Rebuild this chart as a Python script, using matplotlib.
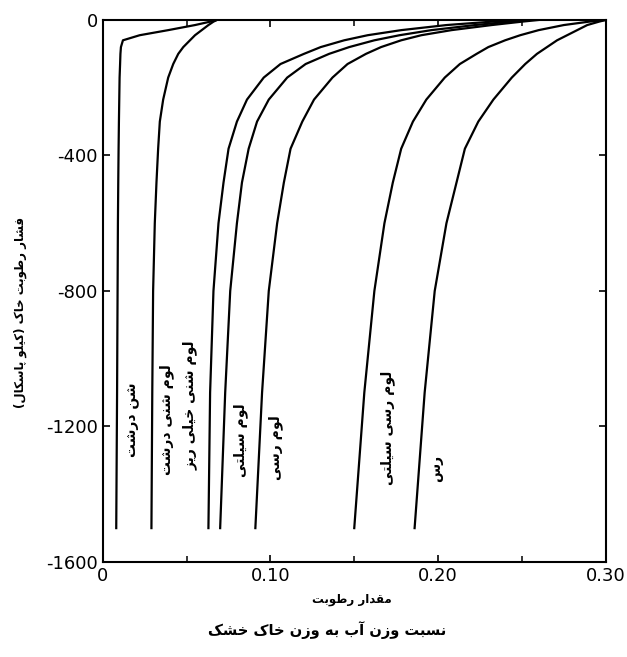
import matplotlib
matplotlib.use("Agg")
import matplotlib.pyplot as plt

# ---------------- data ----------------
pressure = [0, -5, -15, -30, -45, -60, -80, -100, -130, -170, -235, -300,
            -380, -480, -600, -800, -1100, -1500]

coarse_sand = [0.068, 0.064, 0.055, 0.039, 0.022, 0.012, 0.0108, 0.0105, 0.0103,
               0.0100, 0.0098, 0.0096, 0.0094, 0.0092, 0.0090, 0.0088, 0.0085, 0.0080]
coarse_sandy_loam = [0.068, 0.066, 0.063, 0.059, 0.055, 0.052, 0.048, 0.045, 0.042,
                     0.039, 0.036, 0.034, 0.033, 0.032, 0.031, 0.030, 0.0295, 0.029]
vfine_sandy_loam = [0.250, 0.232, 0.205, 0.178, 0.158, 0.144, 0.130, 0.120, 0.106,
                    0.096, 0.086, 0.080, 0.075, 0.072, 0.069, 0.066, 0.064, 0.063]
silt_loam = [0.255, 0.243, 0.222, 0.196, 0.177, 0.162, 0.147, 0.135, 0.121,
             0.110, 0.099, 0.092, 0.087, 0.083, 0.080, 0.076, 0.073, 0.070]
clay_loam = [0.260, 0.250, 0.232, 0.208, 0.190, 0.178, 0.166, 0.157, 0.146,
             0.137, 0.126, 0.119, 0.112, 0.108, 0.104, 0.099, 0.095, 0.091]
silty_clay_loam = [0.300, 0.290, 0.275, 0.260, 0.249, 0.240, 0.230, 0.223, 0.213,
                   0.204, 0.193, 0.185, 0.178, 0.173, 0.168, 0.162, 0.156, 0.150]
clay = [0.300, 0.296, 0.289, 0.283, 0.277, 0.271, 0.265, 0.259, 0.252,
        0.244, 0.233, 0.224, 0.216, 0.211, 0.205, 0.198, 0.192, 0.186]

series = [coarse_sand, coarse_sandy_loam, vfine_sandy_loam, silt_loam,
          clay_loam, silty_clay_loam, clay]

curve_labels = ["شن درشت", "لوم شنی درشت", "لوم شنی خیلی ریز", "لوم سیلتی",
                "لوم رسی", "لوم رسی سیلتی", "رس"]
label_x = [0.018, 0.038, 0.052, 0.082, 0.103, 0.170, 0.199]
label_y = [-1181, -1181, -1136, -1240, -1263, -1204, -1325]

xticks = [0, 0.10, 0.20, 0.30]
xminor = [0.05, 0.15, 0.25]
xtick_labels = ["0", "0.10", "0.20", "0.30"]
yticks = [0, -400, -800, -1200, -1600]
ytick_labels = ["0", "-400", "-800", "-1200", "-1600"]

ylabel = "فشار رطوبت خاک (کیلو پاسکال)"
xlabel1 = "مقدار رطوبت"
xlabel2 = "نسبت وزن آب به وزن خاک خشک"

# ---------------- Persian shaping ----------------
FORMS = {
    'ا': ('\uFE8D', '\uFE8E', None, None),
    'آ': ('\uFE81', '\uFE82', None, None),
    'ب': ('\uFE8F', '\uFE90', '\uFE91', '\uFE92'),
    'پ': ('\uFB56', '\uFB57', '\uFB58', '\uFB59'),
    'ت': ('\uFE95', '\uFE96', '\uFE97', '\uFE98'),
    'خ': ('\uFEA5', '\uFEA6', '\uFEA7', '\uFEA8'),
    'د': ('\uFEA9', '\uFEAA', None, None),
    'ر': ('\uFEAD', '\uFEAE', None, None),
    'ز': ('\uFEAF', '\uFEB0', None, None),
    'س': ('\uFEB1', '\uFEB2', '\uFEB3', '\uFEB4'),
    'ش': ('\uFEB5', '\uFEB6', '\uFEB7', '\uFEB8'),
    'ط': ('\uFEC1', '\uFEC2', '\uFEC3', '\uFEC4'),
    'ف': ('\uFED1', '\uFED2', '\uFED3', '\uFED4'),
    'ق': ('\uFED5', '\uFED6', '\uFED7', '\uFED8'),
    '\u06A9': ('\uFB8E', '\uFB8F', '\uFB90', '\uFB91'),
    'ل': ('\uFEDD', '\uFEDE', '\uFEDF', '\uFEE0'),
    'م': ('\uFEE1', '\uFEE2', '\uFEE3', '\uFEE4'),
    'ن': ('\uFEE5', '\uFEE6', '\uFEE7', '\uFEE8'),
    'ه': ('\uFEE9', '\uFEEA', '\uFEEB', '\uFEEC'),
    'و': ('\uFEED', '\uFEEE', None, None),
    '\u06CC': ('\uFBFC', '\uFBFD', '\uFBFE', '\uFBFF'),
}


def fa(text):
    text = text.replace('\u0643', '\u06A9').replace('\u064A', '\u06CC')
    out = []
    n = len(text)
    for i, ch in enumerate(text):
        if ch not in FORMS:
            out.append(ch)
            continue
        f = FORMS[ch]
        prev = text[i - 1] if i > 0 else None
        nxt = text[i + 1] if i < n - 1 else None
        pj = prev in FORMS and FORMS[prev][2] is not None
        nj = nxt in FORMS and f[2] is not None
        if pj and nj:
            out.append(f[3])
        elif pj:
            out.append(f[1])
        elif nj:
            out.append(f[2])
        else:
            out.append(f[0])
    s = ''.join(reversed(out))
    s = s.replace('(', '\0').replace(')', '(').replace('\0', ')')
    return s


# ---------------- plot ----------------
plt.rcParams['font.family'] = ['DejaVu Sans']
fig = plt.figure(figsize=(6.27, 6.57), dpi=100)
ax = fig.add_axes([0.164, 0.1446, 0.802, 0.825])

for s in series:
    ax.plot(s, pressure, color='black', lw=1.6, solid_joinstyle='round')

for txt, x, y in zip(curve_labels, label_x, label_y):
    ax.text(x, y, fa(txt), rotation=90, ha='center', va='center',
            fontsize=10, fontweight='bold')

ax.set_xlim(0, 0.30)
ax.set_ylim(-1600, 0)
ax.set_xticks(xticks)
ax.set_xticks(xminor, minor=True)
ax.set_xticklabels(xtick_labels, fontsize=13)
ax.set_yticks(yticks)
ax.set_yticklabels(ytick_labels, fontsize=13)
ax.tick_params(which='major', direction='in', top=True, right=True, length=5, width=1.2)
ax.tick_params(which='minor', direction='in', top=True, length=4, width=1.1)
for sp in ax.spines.values():
    sp.set_linewidth(1.5)

fig.text(0.032, 0.525, fa(ylabel), rotation=90, ha='center', va='center',
         fontsize=8.5, fontweight='bold')
fig.text(0.562, 0.087, fa(xlabel1), ha='center', va='center', fontsize=8.5, fontweight='bold')
fig.text(0.522, 0.041, fa(xlabel2), ha='center', va='center', fontsize=10.5, fontweight='bold')

fig.savefig("out.png", dpi=100)
